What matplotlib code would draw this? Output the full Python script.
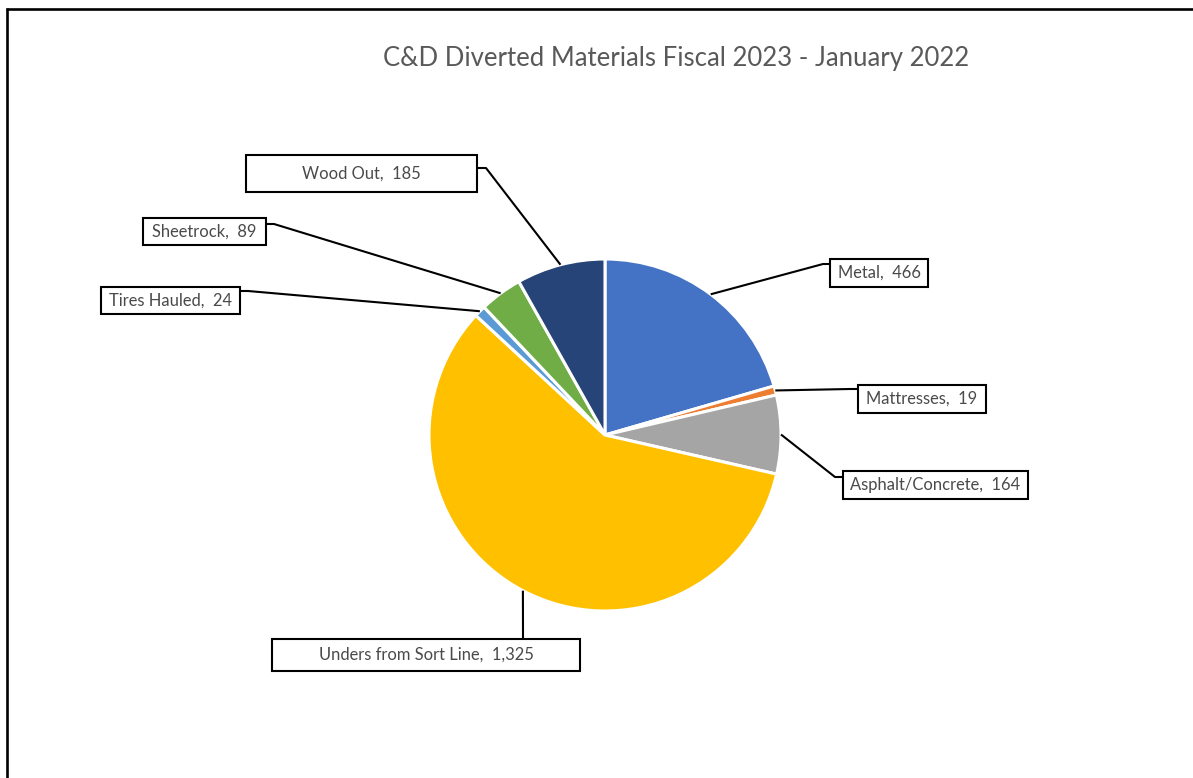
import numpy as np
import matplotlib
matplotlib.use("Agg")
import matplotlib.pyplot as plt
from matplotlib.patches import Rectangle

# ---- data ----
categories = ["Metal", "Mattresses", "Asphalt/Concrete", "Unders from Sort Line",
              "Tires Hauled", "Sheetrock", "Wood Out"]
values = [466, 19, 164, 1325, 24, 89, 185]
colors = ["#4472C4", "#ED7D31", "#A5A5A5", "#FFC000", "#5B9BD5", "#70AD47", "#264478"]
title = "C&D Diverted Materials Fiscal 2023 - January 2022"

# ---- layout (pixel coords, origin top-left) ----
W, H = 1193, 778
CX, CY, R = 605, 435, 176
# label boxes: (left, top, right, bottom)
boxes = {
    "Metal": (830, 259, 928, 287),
    "Mattresses": (858, 385, 986, 413),
    "Asphalt/Concrete": (843, 471, 1028, 499),
    "Unders from Sort Line": (272, 639, 580, 671),
    "Tires Hauled": (101, 287, 240, 314),
    "Sheetrock": (143, 218, 266, 245),
    "Wood Out": (246, 155, 477, 192),
}
# leader attach point on box and elbow point
leaders = {
    "Metal": [(830, 264), (823, 264)],
    "Mattresses": [(858, 389), (850, 389)],
    "Asphalt/Concrete": [(843, 477), (835, 477)],
    "Unders from Sort Line": [(523, 639), (523, 631)],
    "Tires Hauled": [(240, 291), (248, 291)],
    "Sheetrock": [(266, 224), (274, 224)],
    "Wood Out": [(477, 168), (486, 168)],
}

def Y(py):
    return H - py

fig = plt.figure(figsize=(W / 100, H / 100), dpi=100)
ax = fig.add_axes([0, 0, 1, 1])
wedges, _ = ax.pie(values, colors=colors, startangle=90, counterclock=False,
                   center=(CX, Y(CY)), radius=R,
                   wedgeprops=dict(edgecolor="white", linewidth=2.2))
ax.set_xlim(0, W)
ax.set_ylim(0, H)
ax.set_aspect("equal")
ax.axis("off")

# frame lines (top and left)
ax.plot([6, W], [Y(8.5), Y(8.5)], color="black", lw=1.9, solid_capstyle="butt")
ax.plot([6.5, 6.5], [Y(8), 0], color="black", lw=1.9, solid_capstyle="butt")

renderer = fig.canvas.get_renderer()
FONT = "Lato"

def fit_size(text, target_px, family):
    t = fig.text(0, 0, text, fontsize=10, family=family)
    w = t.get_window_extent(renderer=renderer).width
    t.remove()
    return 10 * target_px / w

# title
tsize = fit_size(title, 584, FONT)
ax.text(676, Y(58), title, ha="center", va="center", fontsize=tsize,
        family=FONT, color="#595959")

lsize = fit_size("Wood Out,  185", 119, FONT)

for cat, val, w in zip(categories, values, wedges):
    l, t, r, b = boxes[cat]
    ax.add_patch(Rectangle((l, Y(b)), r - l, b - t, facecolor="white",
                           edgecolor="black", lw=1.5, zorder=3))
    ax.text((l + r) / 2, Y((t + b) / 2), f"{cat},  {val:,}", ha="center", va="center",
            fontsize=lsize, family=FONT, color="#4a4a4a", zorder=4)
    mid = np.deg2rad((w.theta1 + w.theta2) / 2)
    ex = CX + R * np.cos(mid)
    ey = Y(CY) + R * np.sin(mid)
    p0, p1 = leaders[cat]
    ax.plot([p0[0], p1[0], ex], [Y(p0[1]), Y(p1[1]), ey], color="black", lw=1.5,
            zorder=2, solid_capstyle="butt")

fig.savefig("out.png", dpi=100)
